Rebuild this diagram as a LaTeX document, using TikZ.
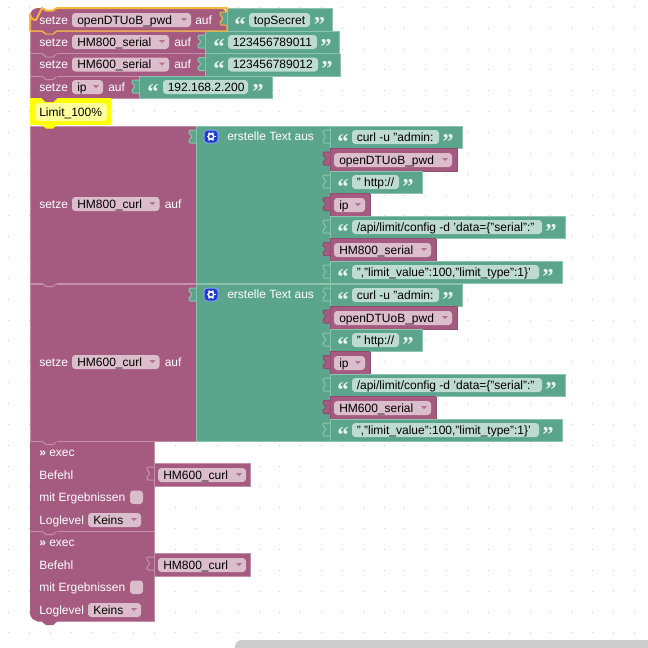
\documentclass[tikz,border=0pt]{standalone}
\usepackage{fontspec}
\setmainfont{Liberation Sans}
\newfontfamily\quotefont{Liberation Serif}
\definecolor{Pu}{HTML}{A55B80}
\definecolor{PuL}{HTML}{C58FAB}
\definecolor{PuD}{HTML}{8E4F6F}
\definecolor{PuF}{HTML}{DBBDCC}
\definecolor{Gr}{HTML}{5BA58C}
\definecolor{GrL}{HTML}{8CC4B0}
\definecolor{GrF}{HTML}{BDDBD1}
\definecolor{Sel}{HTML}{F9B53C}
\definecolor{Yel}{HTML}{FFFF00}
\definecolor{YelF}{HTML}{FFFF9C}
\definecolor{Gear}{HTML}{1C3FD0}
\definecolor{GearL}{HTML}{8CA0E8}
\definecolor{Dot}{HTML}{C8C8C8}
\definecolor{Bar}{HTML}{CCCCCC}
\definecolor{QuoteC}{HTML}{E6F3EE}
\newcounter{nid}
\tikzset{
  lab/.style={anchor=base west,inner sep=0pt,text=white,font=\fontsize{9pt}{9pt}\selectfont},
  fldtxt/.style={anchor=base west,inner sep=0pt,text=black,font=\fontsize{9pt}{9pt}\selectfont},
  qt/.style={anchor=base,inner sep=0pt,text=QuoteC,font=\quotefont\bfseries\fontsize{17pt}{17pt}\selectfont},
  edge/.style={line width=0.75pt},
}
% label: x, centre y, text
\newcommand{\lbl}[3]{\stepcounter{nid}\node[lab] (n\arabic{nid}) at (#1,#2+4.3) {#3};}
% block: x1 y1 x2 y2 colour lightedge rightbottomedge
\newcommand{\blk}[7]{%
  \fill[#5] (#1,#2) rectangle (#3,#4);
  \draw[edge,#6] (#1,#4) -- (#1,#2) -- (#3,#2);
  \draw[edge,#7] (#3,#2) -- (#3,#4) -- (#1,#4);
}
% puzzle tab: x, top y of row, colour, edge
\newcommand{\ptab}[4]{%
  \filldraw[edge,fill=#3,draw=#4] (#1,#2+4) -- (#1-5.5,#2+4)
    .. controls (#1-7.5,#2+4) and (#1-7.5,#2+8) .. (#1-5.5,#2+8.5)
    .. controls (#1-4,#2+9) and (#1-4,#2+12) .. (#1-5.5,#2+12.5)
    .. controls (#1-7.5,#2+13) and (#1-7.5,#2+17) .. (#1-5.5,#2+17) -- (#1,#2+17);
}
% stack nub below y: colour edge
\newcommand{\nub}[3]{%
  \filldraw[edge,fill=#2,draw=#3] (42,#1) -- (46,#1+3.5) -- (53,#1+3.5) -- (57,#1);
  \fill[#2] (42.5,#1-1) rectangle (56.5,#1+0.5);
}
% dropdown field: x1 x2 centre y text
\newcommand{\dd}[4]{%
  \fill[PuF,rounded corners=2.5pt] (#1,#3-7) rectangle (#2,#3+7);
  \fill[Pu!75!PuF] (#2-10,#3-2) -- (#2-4,#3-2) -- (#2-7,#3+1) -- cycle;
  \stepcounter{nid}\node[fldtxt] (n\arabic{nid}) at (#1+5,#3+4.3) {#4};
}
% string field with quotes: x1 x2 centre y text, quote centres
\newcommand{\str}[6]{%
  \fill[GrF,rounded corners=2.5pt] (#1,#3-7) rectangle (#2,#3+7);
  \stepcounter{nid}\node[fldtxt] (n\arabic{nid}) at (#1+4.5,#3+4.3) {#4};
  \stepcounter{nid}\node[qt] (n\arabic{nid}) at (#5,#3+12) {“};
  \stepcounter{nid}\node[qt] (n\arabic{nid}) at (#6,#3+12) {”};
}
% green text-creating block with its seven rows
\newcommand{\curlblock}[2]{%
  \blk{30}{126}{196}{283}{Pu}{PuL}{PuL}
  \blk{196}{126}{330}{283}{Gr}{GrL}{GrL}
  \ptab{196}{126}{Gr}{GrL}
  \lbl{39}{204}{setze}
  \dd{72}{159.5}{204}{#1}
  \lbl{164.5}{204}{auf}
  \fill[Gear,rounded corners=2.5pt,draw=GearL,line width=0.75pt] (204,130) rectangle (218,143);
  \draw[white,line width=1.1pt] (211,136.5) circle (2.7);
  \foreach \a in {0,60,...,300}{\draw[white,line width=1.1pt] (211,136.5) ++(\a:2.8) -- ++(\a:1.7);}
  \lbl{227}{136}{erstelle Text aus}
  \blk{330}{126}{462}{148}{Gr}{GrL}{GrL}\ptab{330}{126}{Gr}{GrL}
  \str{352}{439}{137}{curl -u "admin:}{343}{448}
  \blk{330}{148}{457}{171}{Pu}{PuD}{PuD}\ptab{330}{148}{Pu}{PuD}
  \dd{334}{452}{160}{openDTUoB\_pwd}
  \blk{330}{171}{422}{193.5}{Gr}{GrL}{GrL}\ptab{330}{171}{Gr}{GrL}
  \str{352}{399}{182}{" http://}{343}{408}
  \blk{330}{193.5}{370}{216}{Pu}{PuD}{PuD}\ptab{330}{193.5}{Pu}{PuD}
  \dd{334}{365}{205}{ip}
  \blk{330}{216}{565}{238.5}{Gr}{GrL}{GrL}\ptab{330}{216}{Gr}{GrL}
  \str{352}{542}{227}{/api/limit/config -d 'data=\{"serial":"}{343}{551}
  \blk{330}{238.5}{436}{261}{Pu}{PuD}{PuD}\ptab{330}{238.5}{Pu}{PuD}
  \dd{334}{431}{250}{#2}
  \blk{330}{261}{562}{283}{Gr}{GrL}{GrL}\ptab{330}{261}{Gr}{GrL}
  \str{352}{539}{272}{","limit\_value":100,"limit\_type":1\}'}{343}{548}
}
% exec block: top y, variable
\newcommand{\execblock}[2]{%
  \begin{scope}[shift={(0,#1-441)}]
  \blk{154}{463}{250}{486}{Pu}{PuL}{PuL}
  \ptab{154}{463}{Pu}{PuL}
  \dd{158}{246}{475}{#2}
  \lbl{39}{452}{\textbf{»} exec}
  \lbl{39}{475}{Befehl}
  \lbl{39}{497}{mit Ergebnissen}
  \fill[PuF,rounded corners=2.5pt] (130,490.5) rectangle (143,504);
  \lbl{39}{520}{Loglevel}
  \dd{88}{141}{520}{Keins}
  \end{scope}
}
\begin{document}
\begin{tikzpicture}[x=0.75pt,y=-0.75pt]
\useasboundingbox (0,0) rectangle (648,647);
\fill[white] (0,0) rectangle (648,647);
\begin{scope}
\clip (0,0) rectangle (648,647);
\foreach \i in {0,...,30}{\foreach \j in {0,...,30}{
  \fill[Dot] ({8.8+\i*20.85-0.5},{7.35+\j*20.85-0.5}) rectangle ++(1,1);
}}
\fill[Bar,rounded corners=5pt] (235,640) rectangle (670,670);
\end{scope}

% variable assignments
\fill[Pu,rounded corners=6pt] (30,50) -- (30,8) -- (227,8) -- (227,60) -- cycle;
\fill[white] (42,7) -- (42,8) -- (46,10.5) -- (53,10.5) -- (57,8) -- (57,7) -- cycle;
\fill[Pu] (30,20) rectangle (227,31);
\blk{227}{8}{332}{31}{Gr}{GrL}{GrL}
\ptab{227}{8}{Gr}{Sel}
\blk{30}{31}{205}{53.5}{Pu}{PuL}{PuL}
\blk{205}{31}{339}{53.5}{Gr}{GrL}{GrL}\ptab{205}{31}{Gr}{GrL}
\blk{30}{53.5}{205}{76}{Pu}{PuL}{PuL}
\blk{205}{53.5}{340}{76}{Gr}{GrL}{GrL}\ptab{205}{53.5}{Gr}{GrL}
\blk{30}{76}{139}{98}{Pu}{PuL}{PuL}
\blk{139}{76}{272}{98}{Gr}{GrL}{GrL}\ptab{139}{76}{Gr}{GrL}
\nub{53.5}{Pu}{PuL}
\nub{76}{Pu}{PuL}
% comment
\fill[Yel] (30,98) rectangle (111,125);
\nub{98}{Pu}{Pu}
\fill[YelF,rounded corners=3pt] (35,103) rectangle (107,121);
\stepcounter{nid}\node[fldtxt] (n\arabic{nid}) at (39,116.3) {Limit\_100\%};
% text building blocks
\curlblock{HM800\_curl}{HM800\_serial}
\begin{scope}[yshift=-118.5pt]
\curlblock{HM600\_curl}{HM600\_serial}
\end{scope}
\fill[Yel] (42,125) -- (46,128.5) -- (53,128.5) -- (57,125) -- cycle;
\nub{283}{Pu}{PuL}
% exec blocks
\fill[Pu,rounded corners=6pt] (30,560) -- (30,621) -- (154,621) -- (154,560) -- cycle;
\fill[Pu] (30,441) rectangle (154,580);
\fill[Pu] (100,600) rectangle (154,621);
\draw[edge,PuL] (30,441) -- (154,441) -- (154,463);
\draw[edge,PuL] (154,486) -- (154,553);
\draw[edge,PuL] (154,576) -- (154,621) -- (37,621);
\draw[edge,PuL] (30,531) -- (154,531);
\execblock{441}{HM600\_curl}
\execblock{531}{HM800\_curl}
\nub{441}{Pu}{PuL}
\nub{531}{Pu}{PuL}
\nub{621}{Pu}{Pu}
% first row selected outline
\draw[Sel,line width=1.5pt,line join=round] (30,31) -- (30,14) arc[start angle=180,end angle=90,radius=6] -- (42,8) -- (46,10.5) -- (53,10.5) -- (57,8) -- (227,8) -- (227,12);
\draw[Sel,line width=1pt] (227,25) -- (227,31) -- (57,31) -- (53,34) -- (46,34) -- (42,31) -- (30,31);
\fill[Pu] (42.6,30) -- (46.5,33.3) -- (52.5,33.3) -- (56.4,30) -- cycle;
% labels and fields of the assignment rows
\lbl{39}{20}{setze}
\dd{72}{191}{20}{openDTUoB\_pwd}
\lbl{195}{20}{auf}
\str{249}{310}{20}{topSecret}{240}{319.5}
\lbl{39}{42}{setze}
\dd{72}{169}{42}{HM800\_serial}
\lbl{174}{42}{auf}
\str{228}{317}{42}{123456789011}{219}{326}
\lbl{39}{64.5}{setze}
\dd{72}{169}{64.5}{HM600\_serial}
\lbl{174}{64.5}{auf}
\str{228}{318}{64.5}{123456789012}{219}{327}
\lbl{39}{87}{setze}
\dd{72}{103}{87}{ip}
\lbl{108}{87}{auf}
\str{163}{248}{87}{192.168.2.200}{153}{258}
\end{tikzpicture}
\end{document}
